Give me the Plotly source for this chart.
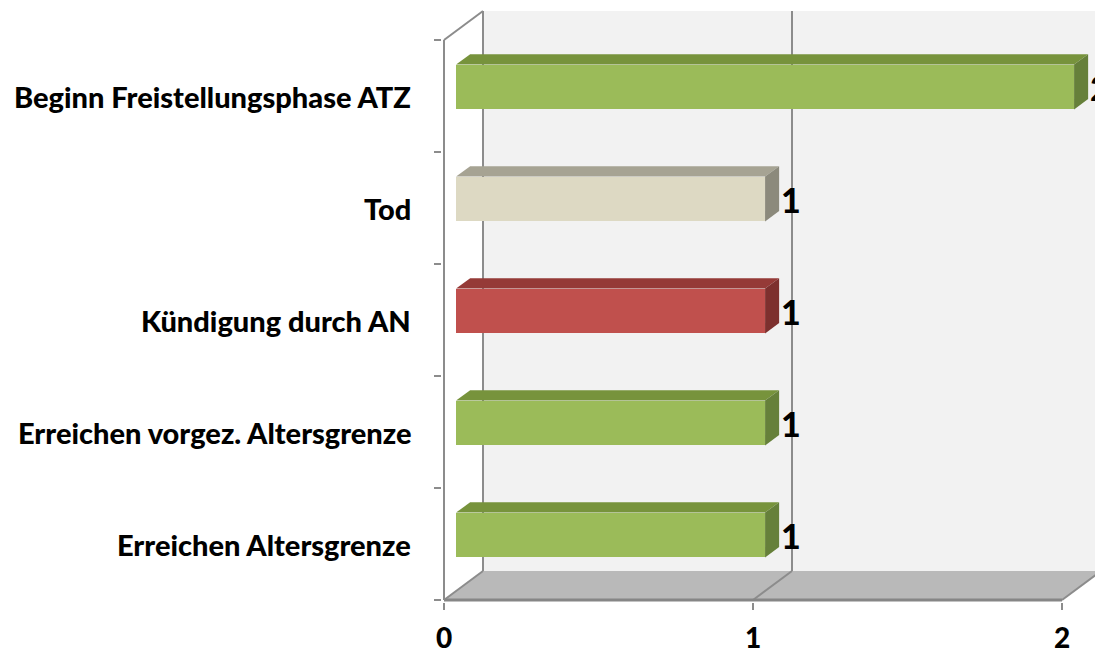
import plotly.graph_objects as go

# Categories listed bottom to top, with their counts
categories = [
    "Erreichen Altersgrenze",
    "Erreichen vorgez. Altersgrenze",
    "Kündigung durch AN",
    "Tod",
    "Beginn Freistellungsphase ATZ",
]
values = [1, 1, 1, 1, 2]
bar_colors = ["green", "green", "red", "beige", "green"]
x_tick_values = [0, 1, 2]
x_tick_labels = ["0", "1", "2"]

# Face shades for the pseudo-3D boxes: front, top, side
PALETTE = {
    "green": ("#9bbb59", "#77933c", "#66803a"),
    "red": ("#c0504d", "#953a37", "#7d302e"),
    "beige": ("#ddd9c3", "#a6a393", "#8c8a7c"),
}

# Geometry of the oblique projection, in data units
DEPTH_X = 39 / 309      # horizontal shift from front plane to back wall
DEPTH_Y = 29 / 112      # vertical shift from front plane to back wall
BAR_D0, BAR_D1 = 0.31, 0.67   # depth slice occupied by the bars
BAR_WIDTH = 0.40
GRID = "#8c8c8c"
FONT = "Lato"

W, H = 1095, 654
L, R, T, B = 442, 0, 10, 52
PX_X = 309   # pixels per value unit
PX_Y = 112   # pixels per category
x_range = [(L - 444) / PX_X, (W - R - 444) / PX_X]
y_range = [-0.5 - (H - B - 600) / PX_Y, -0.5 + (600 - T) / PX_Y]

n = len(categories)
ymin, ymax = -0.5, n - 0.5
x_max = max(x_tick_values)

fig = go.Figure()

# Front faces as real horizontal bars
base = BAR_D0 * DEPTH_X
lift = BAR_D0 * DEPTH_Y
fig.add_trace(go.Bar(
    orientation="h",
    y=[i + lift for i in range(n)],
    x=values,
    base=[base] * n,
    width=BAR_WIDTH,
    marker=dict(color=[PALETTE[c][0] for c in bar_colors], line=dict(width=0)),
    hoverinfo="skip",
    showlegend=False,
))

# Top and side faces
ddx = (BAR_D1 - BAR_D0) * DEPTH_X
ddy = (BAR_D1 - BAR_D0) * DEPTH_Y
for i, (v, c) in enumerate(zip(values, bar_colors)):
    yc = i + lift
    yt, yb = yc + BAR_WIDTH / 2, yc - BAR_WIDTH / 2
    x0, x1 = base, base + v
    _, top_col, side_col = PALETTE[c]
    fig.add_trace(go.Scatter(
        x=[x0, x1, x1 + ddx, x0 + ddx, x0],
        y=[yt, yt, yt + ddy, yt + ddy, yt],
        fill="toself", fillcolor=top_col, mode="lines",
        line=dict(width=0), hoverinfo="skip", showlegend=False,
    ))
    fig.add_trace(go.Scatter(
        x=[x1, x1, x1 + ddx, x1 + ddx, x1],
        y=[yb, yt, yt + ddy, yb + ddy, yb],
        fill="toself", fillcolor=side_col, mode="lines",
        line=dict(width=0), hoverinfo="skip", showlegend=False,
    ))

shapes = []
# Back wall
shapes.append(dict(type="rect", xref="x", yref="y", layer="below",
                   x0=DEPTH_X, x1=x_max + 1, y0=ymin + DEPTH_Y, y1=ymax + DEPTH_Y,
                   fillcolor="#f2f2f2", line=dict(width=0)))
# Floor
shapes.append(dict(type="path", xref="x", yref="y", layer="below",
                   path=f"M 0 {ymin} L {DEPTH_X} {ymin + DEPTH_Y} "
                        f"L {x_max + DEPTH_X} {ymin + DEPTH_Y} L {x_max} {ymin} Z",
                   fillcolor="#b9b9b9", line=dict(width=0)))
# Gridlines on the back wall and floor diagonals
for k in x_tick_values:
    shapes.append(dict(type="line", xref="x", yref="y", layer="below",
                       x0=k + DEPTH_X, x1=k + DEPTH_X, y0=ymin + DEPTH_Y, y1=ymax + DEPTH_Y,
                       line=dict(color=GRID, width=2)))
    shapes.append(dict(type="line", xref="x", yref="y", layer="below",
                       x0=k, x1=k + DEPTH_X, y0=ymin, y1=ymin + DEPTH_Y,
                       line=dict(color=GRID, width=2)))
# Front edge of the floor
shapes.append(dict(type="line", xref="x", yref="y", layer="below",
                   x0=0, x1=x_max, y0=ymin, y1=ymin,
                   line=dict(color="#868686", width=3)))
# Left wall edges
shapes.append(dict(type="line", xref="x", yref="y", layer="below",
                   x0=0, x1=0, y0=ymin, y1=ymax, line=dict(color=GRID, width=2)))
shapes.append(dict(type="line", xref="x", yref="y", layer="below",
                   x0=0, x1=DEPTH_X, y0=ymax, y1=ymax + DEPTH_Y,
                   line=dict(color=GRID, width=2)))

annotations = []
for i, cat in enumerate(categories):
    annotations.append(dict(
        xref="paper", yref="y", x=0, y=i, xanchor="right", yanchor="middle",
        xshift=-29, text=cat, showarrow=False,
        font=dict(family=FONT, size=29, color="black", weight=900),
    ))
for i, v in enumerate(values):
    annotations.append(dict(
        xref="x", yref="y", x=v + BAR_D1 * DEPTH_X, y=i + lift,
        xanchor="left", yanchor="middle", xshift=0, text=str(v), showarrow=False,
        font=dict(family=FONT, size=34, color="black", weight=900),
    ))

fig.update_layout(
    width=W, height=H,
    margin=dict(l=L, r=R, t=T, b=B, pad=0, autoexpand=False),
    paper_bgcolor="white", plot_bgcolor="white",
    shapes=shapes, annotations=annotations,
    bargap=0,
    xaxis=dict(range=x_range, tickvals=x_tick_values, ticktext=x_tick_labels,
               showgrid=False, zeroline=False, showline=False, automargin=False,
               ticks="outside", ticklen=7, tickwidth=2, tickcolor=GRID,
               ticklabelstandoff=4,
               tickfont=dict(family=FONT, size=28, color="black", weight=900),
               fixedrange=True),
    yaxis=dict(range=y_range, tickvals=[k - 0.5 for k in range(n + 1)],
               showticklabels=False, showgrid=False, zeroline=False, showline=False,
               automargin=False,
               ticks="outside", ticklen=7, tickwidth=2, tickcolor=GRID,
               fixedrange=True),
)

fig.write_html("out.html")
